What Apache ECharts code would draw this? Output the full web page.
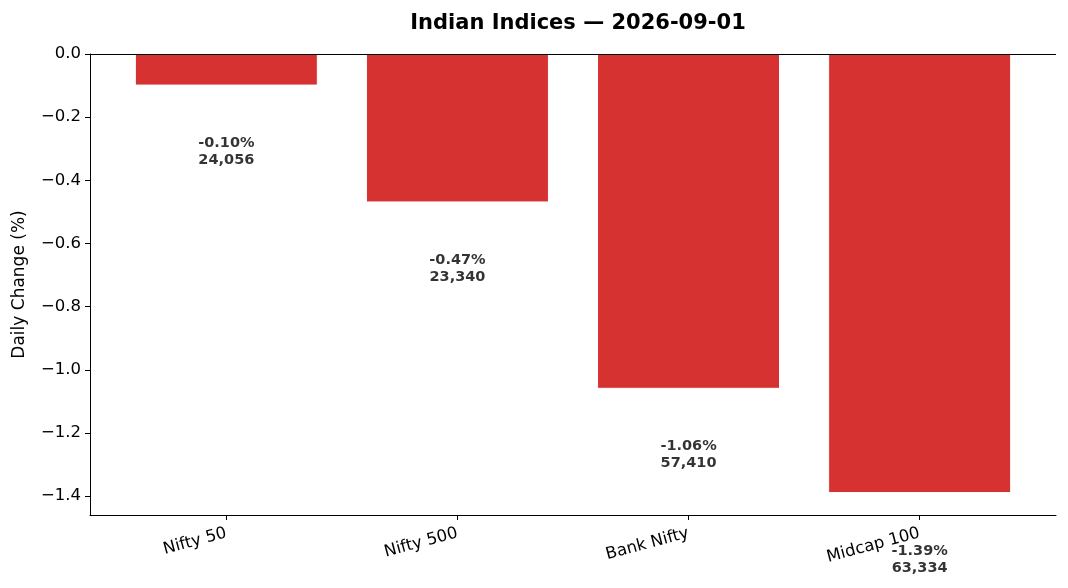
<!DOCTYPE html>
<html lang="en">
<head>
<meta charset="UTF-8">
<title>Indian Indices</title>
<script src="https://cdn.jsdelivr.net/npm/echarts@6/dist/echarts.min.js"></script>
<style>
  body { margin: 0; padding: 0; background: #fff; }
  #main { width: 1068px; height: 588px; }
</style>
</head>
<body>
<div id="main"></div>
<script>
// data
var names = ['Nifty 50', 'Nifty 500', 'Bank Nifty', 'Midcap 100'];
var changes = [-0.10, -0.47, -1.06, -1.39];
var levels = [24056, 23340, 57410, 63334];
var yTicks = [0, -0.2, -0.4, -0.6, -0.8, -1.0, -1.2, -1.4];

var font = 'DejaVu Sans';
var barData = changes.map(function (v, i) { return [i, v]; });
// text sits a little under each bar end
var labelData = changes.map(function (v, i) { return [i, v - 0.21, levels[i]]; });

var chart = echarts.init(document.getElementById('main'));
chart.setOption({
  animation: false,
  backgroundColor: '#fff',
  textStyle: { fontFamily: font },
  title: {
    text: 'Indian Indices \u2014 2026-09-01',
    left: 573, textAlign: 'center', top: 8,
    textStyle: { fontFamily: font, fontSize: 21, fontWeight: 'bold', color: '#000' }
  },
  grid: { left: 90, right: 12, top: 54, bottom: 73 },
  xAxis: {
    type: 'value', min: -0.59, max: 3.59,
    splitLine: { show: false },
    axisLine: { show: true, onZero: false, lineStyle: { color: '#000', width: 1 } },
    axisTick: { show: true, customValues: [0, 1, 2, 3], length: 5, lineStyle: { color: '#000' } },
    axisLabel: {
      customValues: [0, 1, 2, 3], rotate: 15, color: '#000', fontSize: 16.5, margin: 18,
      formatter: function (v) { return names[Math.round(v)]; }
    }
  },
  yAxis: {
    type: 'value', min: -1.4595, max: 0,
    name: 'Daily Change (%)', nameLocation: 'middle', nameGap: 62,
    nameTextStyle: { fontFamily: font, fontSize: 17, color: '#000' },
    splitLine: { show: false },
    axisLine: { show: true, onZero: false, lineStyle: { color: '#000', width: 1 } },
    axisTick: { show: true, customValues: yTicks, length: 5, lineStyle: { color: '#000' } },
    axisLabel: {
      customValues: yTicks, color: '#000', fontSize: 16.5, margin: 9,
      formatter: function (v) { return (v < 0 ? '\u2212' : '') + Math.abs(v).toFixed(1); }
    }
  },
  series: [
    {
      type: 'bar', data: barData, barWidth: 183,
      itemStyle: { color: '#d63232', borderColor: '#fff', borderWidth: 1 },
      markLine: {
        silent: true, symbol: 'none', label: { show: false },
        lineStyle: { color: '#000', width: 1, type: 'solid' },
        data: [{ yAxis: 0 }]
      }
    },
    {
      type: 'scatter', data: labelData, symbolSize: 0, clip: false, silent: true,
      label: {
        show: true, position: 'inside', color: '#000', fontSize: 14.5, fontWeight: 'bold',
        fontFamily: font, lineHeight: 17, align: 'center',
        formatter: function (p) {
          var i = p.dataIndex;
          return changes[i].toFixed(2) + '%\n' + levels[i].toLocaleString('en-US');
        }
      }
    }
  ]
});
</script>
</body>
</html>
